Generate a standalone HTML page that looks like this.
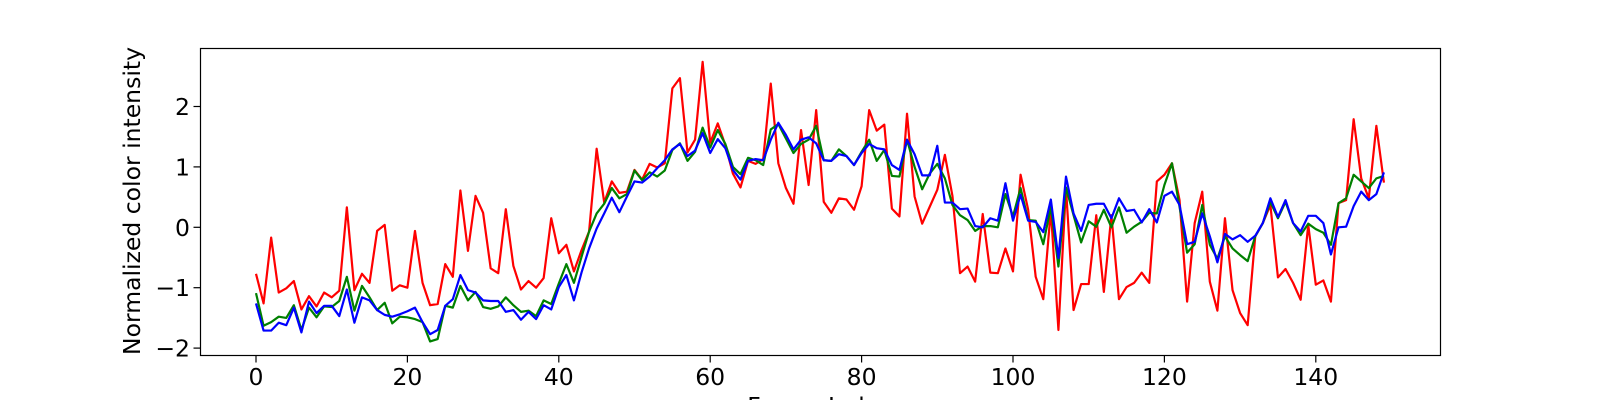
<!DOCTYPE html>
<html><head><meta charset="utf-8">
<style>
html,body{margin:0;padding:0;background:#fff;}
svg{display:block;font-family:"DejaVu Sans","Liberation Sans",sans-serif;}
</style></head>
<body>
<svg id="chart" width="1600" height="400" viewBox="0 0 1600 400" xmlns="http://www.w3.org/2000/svg">
<rect x="0" y="0" width="1600" height="400" fill="#fff"/>
<g id="axes"></g>
<g id="series"></g>
<rect x="200.5" y="48.5" width="1240" height="307" fill="none" stroke="#000" stroke-width="1.2"/>
<text x="0" y="0" transform="translate(140,201) rotate(-90)" text-anchor="middle" font-size="23.5">Normalized color intensity</text>
<text x="820" y="414" text-anchor="middle" font-size="23.5">Frame Index</text>
</svg>
<script>
const xTicks = [0,20,40,60,80,100,120,140];
const yTicks = [2,1,0,-1,-2];
const redValues = [-0.77,-1.26,-0.17,-1.08,-1.01,-0.89,-1.36,-1.14,-1.31,-1.08,-1.16,-1.05,0.33,-1.04,-0.77,-0.92,-0.06,0.04,-1.05,-0.96,
-1.0,-0.06,-0.92,-1.29,-1.27,-0.61,-0.82,0.61,-0.39,0.52,0.24,-0.68,-0.76,0.30,-0.64,-1.03,-0.89,-1.0,-0.84,0.15,
-0.43,-0.29,-0.73,-0.38,-0.07,1.30,0.41,0.76,0.57,0.59,0.95,0.79,1.05,0.99,1.06,2.30,2.47,1.24,1.45,2.74,
1.40,1.72,1.36,0.89,0.66,1.10,1.05,1.13,2.38,1.06,0.65,0.39,1.61,0.70,1.94,0.42,0.24,0.48,0.46,0.29,
0.68,1.94,1.60,1.70,0.31,0.18,1.88,0.51,0.06,0.34,0.62,1.20,0.52,-0.76,-0.65,-0.90,0.22,-0.75,-0.76,-0.35,
-0.73,0.87,0.29,-0.82,-1.19,0.29,-1.70,0.65,-1.37,-0.94,-0.94,0.20,-1.07,0.20,-1.19,-0.99,-0.92,-0.75,-0.92,0.76,
0.87,1.06,0.45,-1.23,0.07,0.59,-0.90,-1.38,0.15,-1.04,-1.42,-1.62,-0.15,0.07,0.37,-0.83,-0.69,-0.92,-1.20,0.04,
-0.95,-0.88,-1.23,0.40,0.45,1.79,0.81,0.48,1.68,0.74];
const greenValues = [-1.09,-1.63,-1.57,-1.48,-1.50,-1.29,-1.70,-1.33,-1.49,-1.31,-1.32,-1.22,-0.82,-1.38,-0.97,-1.16,-1.37,-1.25,-1.59,-1.48,
-1.49,-1.52,-1.57,-1.89,-1.85,-1.30,-1.33,-0.97,-1.21,-1.07,-1.32,-1.35,-1.31,-1.16,-1.29,-1.40,-1.38,-1.47,-1.21,-1.27,
-0.93,-0.61,-0.92,-0.49,-0.07,0.23,0.39,0.65,0.48,0.55,0.94,0.78,0.91,0.84,0.94,1.28,1.39,1.10,1.25,1.65,
1.32,1.61,1.38,1.00,0.88,1.15,1.11,1.03,1.62,1.71,1.47,1.23,1.38,1.45,1.68,1.11,1.10,1.29,1.18,1.03,
1.25,1.45,1.10,1.28,0.85,0.84,1.45,1.00,0.63,0.89,1.05,0.81,0.37,0.20,0.12,-0.06,0.02,0.02,0.0,0.55,
0.18,0.65,0.12,0.11,-0.28,0.34,-0.65,0.66,0.20,-0.25,0.10,0.01,0.29,0.0,0.33,-0.09,0.01,0.09,0.24,0.23,
0.70,1.06,0.34,-0.42,-0.28,0.37,-0.29,-0.52,-0.15,-0.35,-0.46,-0.56,-0.15,0.07,0.42,0.15,0.42,0.07,-0.13,0.06,
-0.03,-0.09,-0.29,0.40,0.48,0.87,0.76,0.65,0.81,0.85];
const blueValues = [-1.26,-1.71,-1.71,-1.58,-1.62,-1.33,-1.74,-1.23,-1.42,-1.30,-1.30,-1.47,-1.03,-1.58,-1.16,-1.21,-1.37,-1.45,-1.48,-1.44,
-1.39,-1.33,-1.57,-1.77,-1.70,-1.30,-1.19,-0.79,-1.04,-1.08,-1.21,-1.22,-1.22,-1.40,-1.37,-1.53,-1.40,-1.52,-1.29,-1.36,
-0.99,-0.79,-1.21,-0.75,-0.35,-0.02,0.23,0.49,0.25,0.51,0.76,0.74,0.84,0.98,1.11,1.29,1.38,1.18,1.27,1.56,
1.23,1.46,1.31,0.95,0.79,1.10,1.13,1.11,1.45,1.73,1.53,1.29,1.45,1.49,1.39,1.11,1.10,1.21,1.18,1.03,
1.23,1.38,1.31,1.29,1.03,0.95,1.45,1.21,0.86,0.86,1.35,0.41,0.41,0.30,0.31,0.02,0.0,0.15,0.11,0.73,
0.11,0.54,0.11,0.09,-0.08,0.46,-0.51,0.84,0.23,-0.06,0.37,0.39,0.39,0.15,0.48,0.27,0.29,0.08,0.30,0.08,
0.52,0.59,0.37,-0.28,-0.24,0.23,-0.15,-0.58,-0.11,-0.20,-0.13,-0.24,-0.14,0.07,0.48,0.17,0.45,0.07,-0.07,0.19,
0.19,0.07,-0.45,0.0,0.01,0.35,0.59,0.45,0.55,0.91];

const NS = "http://www.w3.org/2000/svg";
function xScale(i){ return 256 + i * 7.57; }
function yScale(v){ return 227.3 - v * 60.4; }

const axes = document.getElementById('axes');
xTicks.forEach(function(t){
  const x = xScale(t);
  const ln = document.createElementNS(NS,'line');
  
  
  ln.setAttribute('x1', x); ln.setAttribute('x2', x);
  ln.setAttribute('y1', 355.5); ln.setAttribute('y2', 362.5);
  ln.setAttribute('stroke', '#000'); ln.setAttribute('stroke-width', '1.2');
  axes.appendChild(ln);
  const tx = document.createElementNS(NS,'text');
  
  
  tx.setAttribute('x', x); tx.setAttribute('y', 385);
  tx.setAttribute('text-anchor', 'middle'); tx.setAttribute('font-size', '23.5');
  tx.textContent = String(t);
  axes.appendChild(tx);
});
yTicks.forEach(function(t){
  const y = yScale(t);
  const ln = document.createElementNS(NS,'line');
  
  
  ln.setAttribute('x1', 193.5); ln.setAttribute('x2', 200.5);
  ln.setAttribute('y1', y); ln.setAttribute('y2', y);
  ln.setAttribute('stroke', '#000'); ln.setAttribute('stroke-width', '1.2');
  axes.appendChild(ln);
  const tx = document.createElementNS(NS,'text');
  
  
  tx.setAttribute('x', 190); tx.setAttribute('y', y + 8.5);
  tx.setAttribute('text-anchor', 'end'); tx.setAttribute('font-size', '23.5');
  tx.textContent = t < 0 ? '\u2212' + Math.abs(t) : String(t);
  axes.appendChild(tx);
});

const seriesG = document.getElementById('series');
function drawLine(vals, color, name){
  const pts = vals.map(function(v,i){ return xScale(i).toFixed(2) + ',' + yScale(v).toFixed(2); }).join(' ');
  const pl = document.createElementNS(NS,'polyline');
  
  
  pl.setAttribute('points', pts);
  pl.setAttribute('fill', 'none');
  pl.setAttribute('stroke', color);
  pl.setAttribute('stroke-width', '2.2');
  pl.setAttribute('stroke-linejoin', 'round');
  seriesG.appendChild(pl);
}
drawLine(redValues, '#ff0000', 'red-series-line');
drawLine(greenValues, '#008000', 'green-series-line');
drawLine(blueValues, '#0000ff', 'blue-series-line');
</script>
</body></html>
